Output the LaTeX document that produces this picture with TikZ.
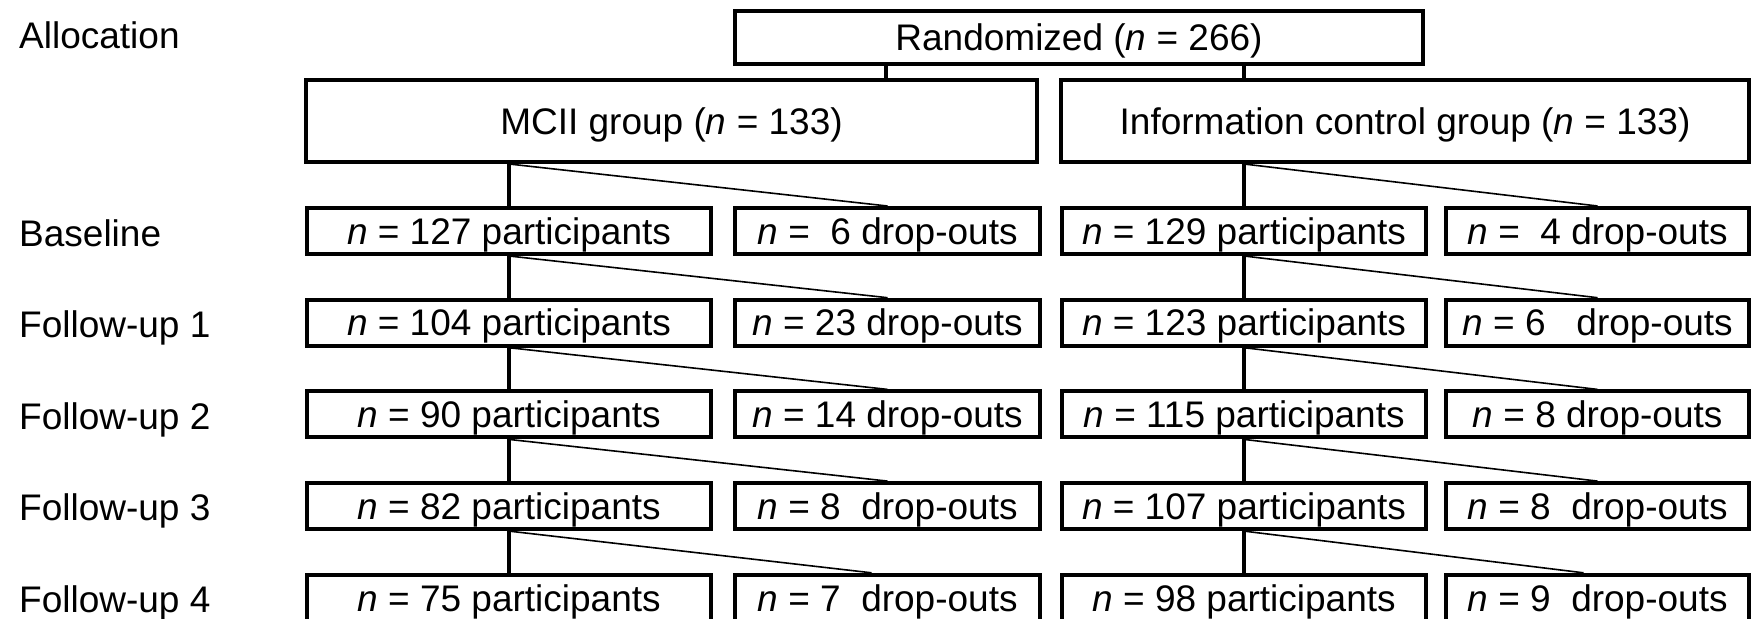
\documentclass[tikz,border=0pt]{standalone}
\usepackage{fontspec}
\setmainfont{Liberation Sans}
\begin{document}
\begin{tikzpicture}[x=1pt,y=-1pt,
  every node/.style={font=\fontsize{37}{42}\selectfont},
  box/.style={draw, line width=4pt, inner sep=0pt, text height=26.5pt, text depth=0pt, anchor=center},
  rowbox/.style={box, minimum height=46pt},
  lab/.style={anchor=west, inner sep=0pt, text height=26.5pt, text depth=0pt},
  vline/.style={line width=4pt},
  dline/.style={line width=1.6pt}]
\useasboundingbox (0,0) rectangle (1755,618);
% labels
\node[lab] (lalloc) at (19,35) {Allocation};
\node[lab] (lb) at (19,233) {Baseline};
\node[lab] (l1) at (19,324.5) {Follow-up 1};
\node[lab] (l2) at (19,416) {Follow-up 2};
\node[lab] (l3) at (19,507.5) {Follow-up 3};
\node[lab] (l4) at (19,599) {Follow-up 4};
% top
\node[box, minimum width=688pt, minimum height=53pt] (rand) at (1079,37.5) {Randomized (\textit{n} = 266)};
\node[box, minimum width=731pt, minimum height=82pt] (mg) at (671.5,121) {MCII group (\textit{n} = 133)};
\node[box, minimum width=688pt, minimum height=82pt] (ig) at (1405,121) {Information control group (\textit{n} = 133)};
\coordinate (rx) at (886,0);
\coordinate (ix) at (1244,0);
\draw[vline] (rand.south -| rx) -- (mg.north -| rx);
\draw[vline] (rand.south -| ix) -- (ig.north -| ix);
% rows
\foreach \k/\mp/\md/\ip/\id in {
  0/{127 participants}/{\ 6 drop-outs}/{129 participants}/{\ 4 drop-outs},
  1/{104 participants}/{23 drop-outs}/{123 participants}/{6\ \ \ drop-outs},
  2/{90 participants}/{14 drop-outs}/{115 participants}/{8 drop-outs},
  3/{82 participants}/{8\ \ drop-outs}/{107 participants}/{8\ \ drop-outs},
  4/{75 participants}/{7\ \ drop-outs}/{98 participants}/{9\ \ drop-outs}}{
  \pgfmathsetmacro{\yy}{231+91.7*\k}
  \node[rowbox, minimum width=404pt] (mp\k) at (509,\yy) {\textit{n} = \mp};
  \node[rowbox, minimum width=305pt] (md\k) at (887.5,\yy) {\textit{n} = \md};
  \node[rowbox, minimum width=364pt] (ip\k) at (1244,\yy) {\textit{n} = \ip};
  \node[rowbox, minimum width=303pt] (id\k) at (1597.5,\yy) {\textit{n} = \id};
}
% connectors
\draw[vline] (mg.south -| mp0.north) -- (mp0.north);
\draw[dline] (mg.south -| mp0.north) -- (md0.north);
\draw[vline] (ig.south -| ip0.north) -- (ip0.north);
\draw[dline] (ig.south -| ip0.north) -- (id0.north);
\foreach \a/\b in {0/1,1/2,2/3}{
  \draw[vline] (mp\a.south) -- (mp\b.north);
  \draw[dline] (mp\a.south) -- (md\b.north);
  \draw[vline] (ip\a.south) -- (ip\b.north);
  \draw[dline] (ip\a.south) -- (id\b.north);
}
\draw[vline] (mp3.south) -- (mp4.north);
\draw[dline] (mp3.south) -- ([xshift=-16pt]md4.north);
\draw[vline] (ip3.south) -- (ip4.north);
\draw[dline] (ip3.south) -- ([xshift=-14pt]id4.north);
\end{tikzpicture}
\end{document}
